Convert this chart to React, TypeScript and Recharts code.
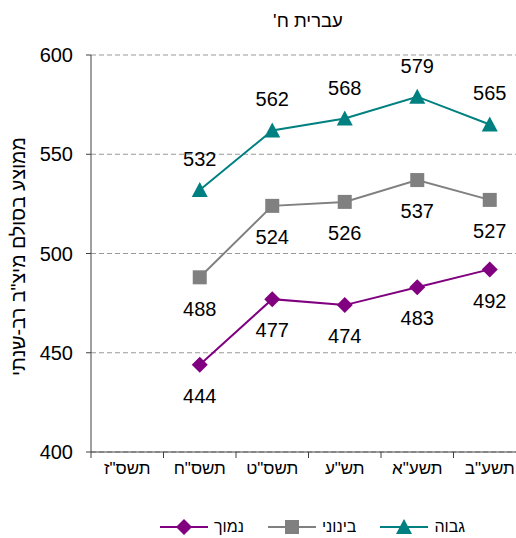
import { LineChart, Line, XAxis, YAxis, CartesianGrid, LabelList } from 'recharts';

const CATEGORIES = ['תשס"ז', 'תשס"ח', 'תשס"ט', 'תש"ע', 'תשע"א', 'תשע"ב'];
const HIGH = [null, 532, 562, 568, 579, 565];
const MID = [null, 488, 524, 526, 537, 527];
const LOW = [null, 444, 477, 474, 483, 492];
const Y_TICKS = [400, 450, 500, 550, 600];

const TITLE = "עברית ח'";
const Y_LABEL = 'ממוצע בסולם מיצ"ב רב-שנתי';
const SERIES_NAMES = { high: 'גבוה', mid: 'בינוני', low: 'נמוך' };

const TEAL = '#008080';
const GRAY = '#808080';
const PURPLE = '#800080';
const FONT = '"Liberation Sans", Arial, sans-serif';

const data = CATEGORIES.map((name, i) => ({
  name,
  high: HIGH[i],
  mid: MID[i],
  low: LOW[i],
}));

const W = 540;
const H = 538;
const MARGIN = { top: 55, right: 14, bottom: 56, left: 0 };
const Y_AXIS_W = 91;
const X_AXIS_H = 30;
const TICK_SIZE = 6;
const TICK_MARGIN = 3;
const BAND = (W - MARGIN.left - MARGIN.right - Y_AXIS_W) / CATEGORIES.length;
const PLOT_MID_Y = MARGIN.top + (H - MARGIN.top - MARGIN.bottom - X_AXIS_H) / 2;

// ── markers ──
const Triangle = ({ cx, cy, fill }: any) => {
  if (cx == null || cy == null) return <g />;
  return <polygon points={`${cx},${cy - 8} ${cx + 8},${cy + 7} ${cx - 8},${cy + 7}`} fill={fill} />;
};
const Square = ({ cx, cy, fill }: any) => {
  if (cx == null || cy == null) return <g />;
  return <rect x={cx - 7} y={cy - 7} width={14} height={14} fill={fill} />;
};
const Diamond = ({ cx, cy, fill }: any) => {
  if (cx == null || cy == null) return <g />;
  return <polygon points={`${cx},${cy - 8} ${cx + 8},${cy} ${cx},${cy + 8} ${cx - 8},${cy}`} fill={fill} />;
};

// x ticks sit on category boundaries, labels at band centres
const XTick = ({ x, y, payload, index }: any) => {
  const axisY = y - TICK_SIZE - TICK_MARGIN;
  const last = index === CATEGORIES.length - 1;
  return (
    <g>
      <line x1={x - BAND / 2} x2={x - BAND / 2} y1={axisY} y2={axisY + TICK_SIZE} stroke="#404040" />
      {last && <line x1={x + BAND / 2} x2={x + BAND / 2} y1={axisY} y2={axisY + TICK_SIZE} stroke="#404040" />}
      <text x={x} y={y + 13} textAnchor="middle" fontSize={17} fill="#000" fontFamily={FONT}>
        {payload.value}
      </text>
    </g>
  );
};

const YLabel = () => {
  const cx = 18;
  const cy = PLOT_MID_Y + 3;
  return (
    <text
      x={cx}
      y={cy}
      transform={`rotate(-90 ${cx} ${cy})`}
      textAnchor="middle"
      dominantBaseline="central"
      fontSize={19.5}
      fill="#000"
      fontFamily={FONT}
    >
      {Y_LABEL}
    </text>
  );
};

const LEGEND = [
  { key: 'low', color: PURPLE, Shape: Diamond },
  { key: 'mid', color: GRAY, Shape: Square },
  { key: 'high', color: TEAL, Shape: Triangle },
] as const;

export default function App() {
  return (
    <div style={{ position: 'absolute', left: 0, top: 0, width: 516, height: 538, overflow: 'hidden', fontFamily: FONT }}>
      <div
        style={{
          position: 'absolute', left: 208, top: 10, width: 200, textAlign: 'center',
          fontSize: 18.5, lineHeight: '22px', direction: 'rtl', color: '#000',
        }}
      >
        {TITLE}
      </div>

      <LineChart width={W} height={H} data={data} margin={MARGIN}>
        <CartesianGrid vertical={false} stroke="#999" strokeDasharray="5 3" />
        <XAxis
          dataKey="name"
          type="category"
          scale="band"
          height={X_AXIS_H}
          stroke="#404040"
          tickLine={false}
          tickSize={TICK_SIZE}
          tickMargin={TICK_MARGIN}
          tick={<XTick />}
          interval={0}
        />
        <YAxis
          domain={[400, 600]}
          ticks={Y_TICKS}
          width={Y_AXIS_W}
          stroke="#404040"
          tickSize={5}
          tickMargin={13}
          tick={{ fontSize: 20, fill: '#000', fontFamily: FONT }}
          label={<YLabel />}
        />
        <Line
          dataKey="high"
          stroke={TEAL}
          strokeWidth={2}
          dot={<Triangle fill={TEAL} />}
          isAnimationActive={false}
        >
          <LabelList dataKey="high" position="top" offset={24} fontSize={20} fill="#000" fontFamily={FONT} />
        </Line>
        <Line
          dataKey="mid"
          stroke={GRAY}
          strokeWidth={2}
          dot={<Square fill={GRAY} />}
          isAnimationActive={false}
        >
          <LabelList dataKey="mid" position="bottom" offset={24} fontSize={20} fill="#000" fontFamily={FONT} />
        </Line>
        <Line
          dataKey="low"
          stroke={PURPLE}
          strokeWidth={2}
          dot={<Diamond fill={PURPLE} />}
          isAnimationActive={false}
        >
          <LabelList dataKey="low" position="bottom" offset={24} fontSize={20} fill="#000" fontFamily={FONT} />
        </Line>
      </LineChart>

      <div style={{ position: 'absolute', left: 160, top: 517, display: 'flex', alignItems: 'center', fontSize: 16, lineHeight: '20px' }}>
        {LEGEND.map(({ key, color, Shape }, i) => (
          <div key={key} style={{ display: 'flex', alignItems: 'center', marginLeft: i === 0 ? 0 : 24 }}>
            <svg width={48} height={18}>
              <line x1={0} x2={48} y1={9} y2={9} stroke={color} strokeWidth={2} />
              <Shape cx={24} cy={9} fill={color} />
            </svg>
            <span style={{ marginLeft: 6, direction: 'rtl' }}>{SERIES_NAMES[key]}</span>
          </div>
        ))}
      </div>
    </div>
  );
}
